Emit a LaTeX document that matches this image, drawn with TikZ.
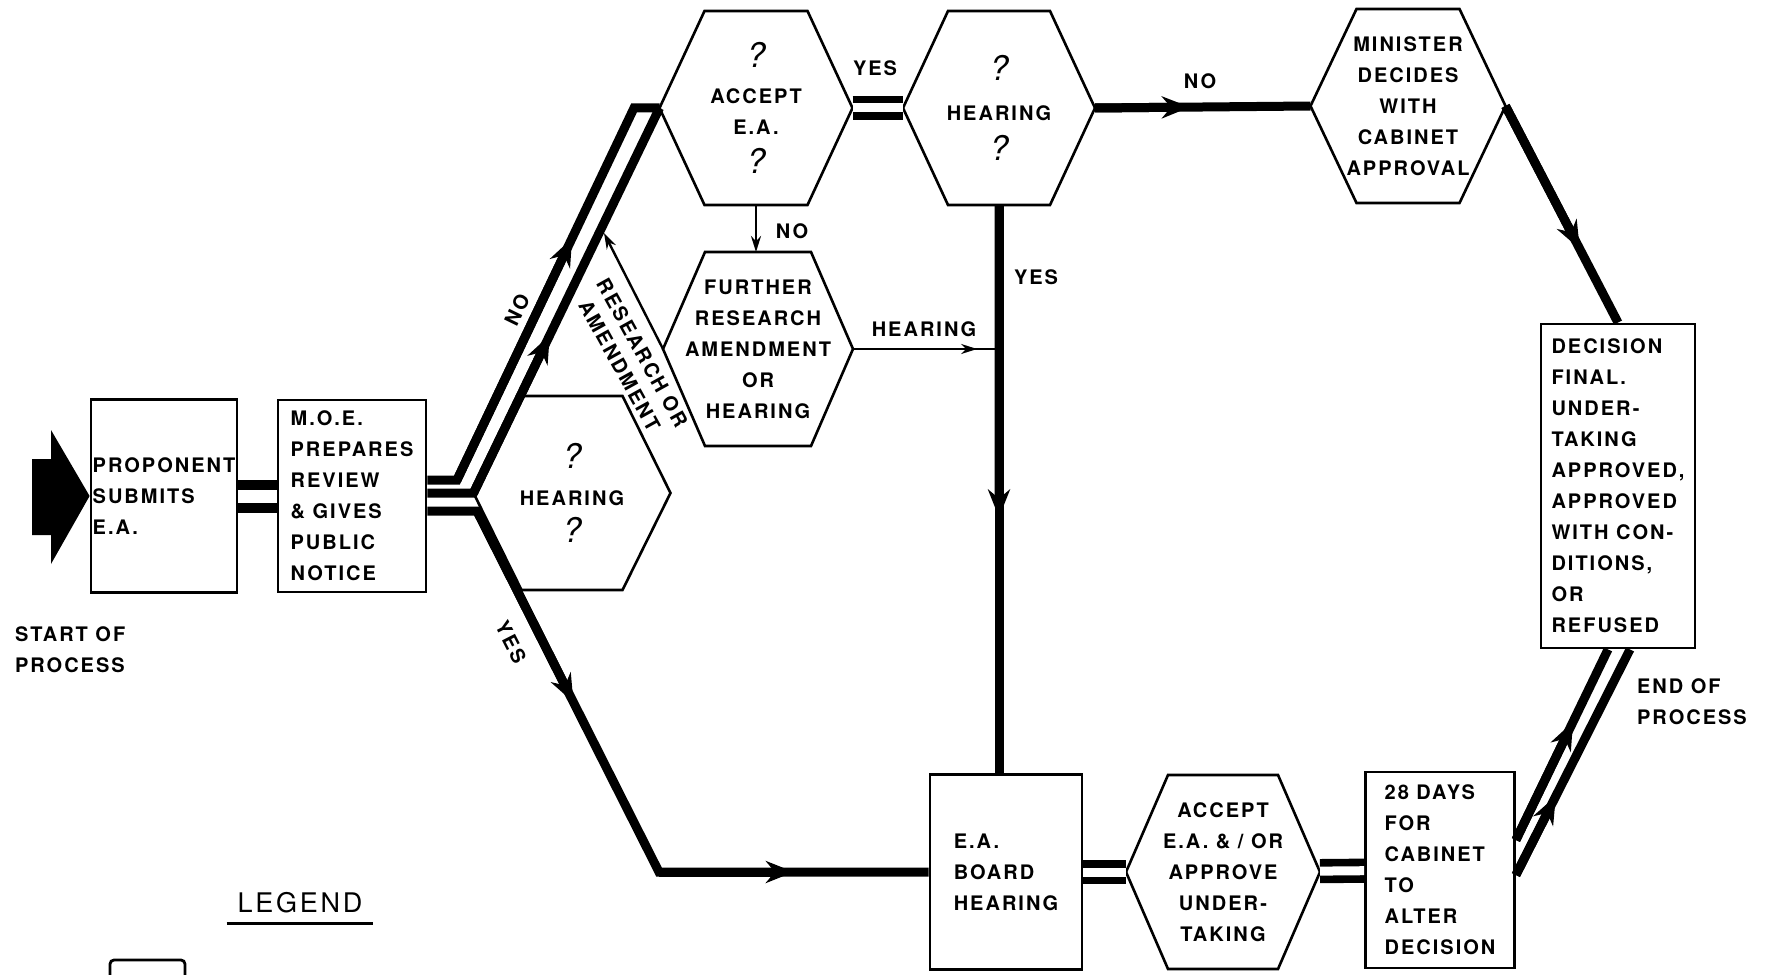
\documentclass[tikz,border=0pt]{standalone}
\usepackage{fontspec}
\setmainfont{TeX Gyre Heros}[LetterSpace=10]
\usetikzlibrary{arrows.meta, positioning, calc}

\newcommand{\qmark}{{\fontsize{17}{17}\selectfont\mdseries\itshape ?}}
\newcommand{\hexpath}[2]{\draw[line width=1.3pt] ($(#1.north west)+(#2,0)$) -- ($(#1.north east)+(-#2,0)$) -- (#1.east)
    -- ($(#1.south east)+(-#2,0)$) -- ($(#1.south west)+(#2,0)$) -- (#1.west) -- cycle;}

\begin{document}
\begin{tikzpicture}[x=0.5pt, y=-0.5pt,
    font=\fontsize{10}{15.5}\selectfont\bfseries,
    box/.style={draw, line width=1.4pt, align=left, inner sep=0pt},
    hexa/.style={align=center, inner sep=0pt, outer sep=0pt, minimum height=97pt},
    thk/.style={line width=4.5pt},
    thn/.style={line width=1.2pt},
    dbl/.style={double, line width=3.8pt, double distance=4.5pt},
    arr/.style={-{Stealth[length=14pt, width=11pt]}},
    sarr/.style={-{Stealth[length=8pt, width=5pt]}}]
    \useasboundingbox (0,0) rectangle (1766,974);
    \clip (0,0) rectangle (1766,974);

    \node[box, minimum width=73pt, minimum height=96.5pt] (prop) at (164,496) {PROPONENT\\SUBMITS\\E.A.};
    \node[box, minimum width=74pt, minimum height=96pt] (moe) at (352,496) {M.O.E.\\PREPARES\\REVIEW\\\& GIVES\\PUBLIC\\NOTICE};
    \node[hexa, minimum width=98.5pt] (hearA) at (572,493) {\qmark\\[3pt]HEARING\\[3pt]\qmark};
    \node[hexa, minimum width=96.5pt] (accept) at (756,108) {\qmark\\[2.5pt]ACCEPT\\E.A.\\[4pt]\qmark};
    \node[hexa, minimum width=96pt] (hearB) at (999,108) {\qmark\\[4.5pt]HEARING\\[4.5pt]\qmark};
    \node[hexa, minimum width=95pt] (further) at (758,349) {FURTHER\\RESEARCH\\AMENDMENT\\OR\\HEARING};
    \node[hexa, minimum width=97.5pt] (minister) at (1408,106) {MINISTER\\DECIDES\\WITH\\CABINET\\APPROVAL};
    \node[box, minimum width=77pt, minimum height=162pt] (decision) at (1618,486) {DECISION\\FINAL.\\UNDER-\\TAKING\\APPROVED,\\APPROVED\\WITH CON-\\DITIONS,\\OR\\REFUSED};
    \node[box, minimum width=76pt, minimum height=97.5pt] (board) at (1006,872) {E.A.\\BOARD\\HEARING};
    \node[hexa, minimum width=97pt] (acc2) at (1223,872) {ACCEPT\\E.A. \& / OR\\APPROVE\\UNDER-\\TAKING};
    \node[box, minimum width=74.5pt, minimum height=98pt] (days) at (1440,870) {28 DAYS\\FOR\\CABINET\\TO\\ALTER\\DECISION};

    \hexpath{hearA}{48}
    \hexpath{accept}{45}
    \hexpath{hearB}{45}
    \hexpath{further}{42}
    \hexpath{minister}{46}
    \hexpath{acc2}{42}

    \fill (32,459) -- (51,459) -- (51,430) -- (prop.west) -- (51,564) -- (51,535) -- (32,535) -- cycle;
    \draw[dbl, line width=5pt, double distance=6.5pt] (prop) -- (moe);

    \coordinate (noA) at (457,480);
    \coordinate (noB) at (634,108);
    \coordinate (yesA) at (477,511);
    \coordinate (yesB) at (659,872);
    \coordinate (rTip) at (604,233);
    \coordinate (jH) at (hearB.south |- further.east);
    \coordinate (endA) at ($(days.east)+(0,-30)$);
    \coordinate (endB) at ($(decision.south)+(-10,0)$);
    \coordinate (endC) at ($(days.east)+(0,5)$);
    \coordinate (endD) at ($(decision.south)+(12,0)$);

    \draw[thk] (moe.east |- noA) -- (noA) -- (noB) -- (accept.west);
    \draw[thk, arr] (noA) -- ($(noA)!0.65!(noB)$);
    \draw[thk] (moe.east |- hearA.west) -- (hearA.west) -- (accept.west);
    \draw[thk, arr] (hearA.west) -- ($(hearA.west)!0.41!(accept.west)$);
    \draw[thk] (moe.east |- yesA) -- (yesA) -- (yesB) -- (board.west);
    \draw[thk, arr] (yesA) -- ($(yesA)!0.53!(yesB)$);
    \draw[thk, arr] (yesB) -- ($(yesB)!0.5!(board.west)$);

    \draw[thn, sarr] (further.west) -- (rTip);
    \draw[thn, sarr] (accept.south) -- (accept.south |- further.north);
    \draw[thn] (further.east) -- (jH);
    \draw[thn, sarr] (further.east) -- ($(further.east)!0.85!(jH)$);
    \draw[dbl] (accept) -- (hearB);

    \draw[thk] (hearB.south) -- (hearB.south |- board.north);
    \draw[thk, arr] (hearB.south) -- ($(hearB.south)!0.55!(hearB.south |- board.north)$);
    \draw[thk] (hearB.east) -- (minister.west);
    \draw[thk, arr] (hearB.east) -- ($(hearB.east)!0.44!(minister.west)$);
    \draw[thk] (minister.east) -- (decision.north);
    \draw[thk, arr] (minister.east) -- ($(minister.east)!0.66!(decision.north)$);

    \draw[dbl] (board) -- (acc2);
    \draw[dbl] (acc2) -- (days);
    \draw[thk] (endA) -- (endB);
    \draw[thk, arr] (endA) -- ($(endA)!0.62!(endB)$);
    \draw[thk] (endC) -- (endD);
    \draw[thk, arr] (endC) -- ($(endC)!0.35!(endD)$);

    \node[align=left, anchor=west] (lStart) at (8,650) {START OF\\PROCESS};
    \node[align=left, anchor=west] (lEnd) at (1630,702) {END OF\\PROCESS};
    \node (lYesA) at (875,68) {YES};
    \node (lNoA) at (792,231) {NO};
    \node (lYesB) at (1036,277) {YES};
    \node (lHear) at (924,329) {HEARING};
    \node (lNoB) at (1200,81) {NO};
    \node[rotate=64] (lNoC) at (517,310) {NO};
    \node[rotate=-63] (lYesC) at (511,642) {YES};
    \node[rotate=-61, align=center] (lRes) at (631,359) {RESEARCH OR\\[-2.5pt]AMENDMENT};

    \node[font=\fontsize{13.5}{14}\selectfont] (lLeg) at (300,903) {LEGEND};
    \draw[line width=1.5pt] ($(lLeg.base west)+(-4,11)$) -- ($(lLeg.base east)+(4,11)$);
    \draw[line width=1.4pt, rounded corners=2pt] (110,960) rectangle (185,1010);
\end{tikzpicture}
\end{document}
